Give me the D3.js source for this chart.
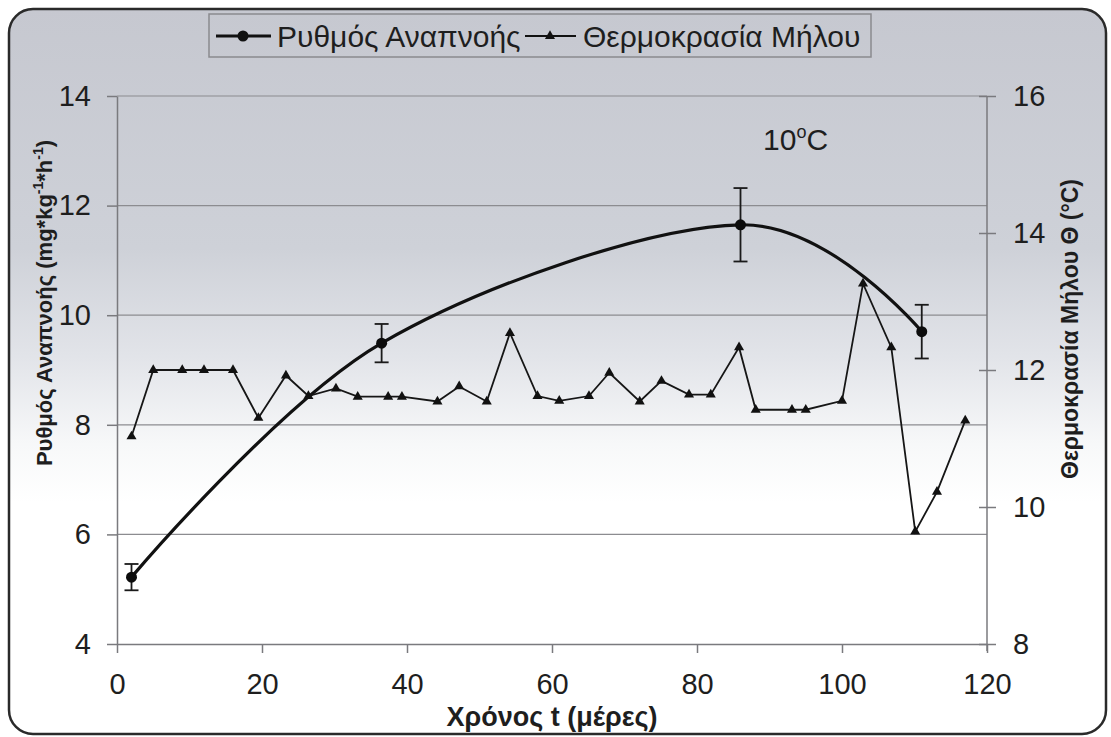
<!DOCTYPE html>
<html><head><meta charset="utf-8">
<script src="https://cdn.jsdelivr.net/npm/d3@7"></script>
<style>
html,body{margin:0;padding:0;background:#fff;}
svg{display:block;font-family:"Liberation Sans",Arial,sans-serif;}
</style></head>
<body><svg id="chart" width="1111" height="737"></svg>
<script>
// ---- data ----
const respDays = [2, 36.5, 86, 111];
const respValues = [5.22, 9.49, 11.65, 9.70];
const respErrors = [0.24, 0.35, 0.67, 0.49];

const tempDays = [2, 5, 9, 12, 16, 19.5, 23.3, 26.4, 30.2, 33.2, 37.4, 39.3, 44.2, 47.2, 51, 54.2, 58, 61, 65.1, 67.9, 72.1, 75.1, 78.9, 81.9, 85.8, 88.1, 93.1, 95, 100, 102.9, 106.8, 110.1, 113.1, 117];
const tempValues = [11.03, 12.0, 12.0, 12.0, 12.0, 11.3, 11.92, 11.62, 11.73, 11.61, 11.61, 11.61, 11.54, 11.76, 11.54, 12.54, 11.62, 11.55, 11.62, 11.96, 11.54, 11.84, 11.64, 11.64, 12.33, 11.42, 11.42, 11.42, 11.55, 13.26, 12.33, 9.64, 10.22, 11.26];

const xTicks = [0, 20, 40, 60, 80, 100, 120];
const yLeftTicks = [4, 6, 8, 10, 12, 14];
const yRightTicks = [8, 10, 12, 14, 16];
const seriesNames = ["Ρυθμός Αναπνοής", "Θερμοκρασία Μήλου"];

// ---- layout ----
const svg = d3.select("#chart");
const L = 117, R = 987, T = 96, B = 644;
const x = d3.scaleLinear().domain([0, 120]).range([L, R]);
const yL = d3.scaleLinear().domain([4, 14]).range([B, T]);
const yR = d3.scaleLinear().domain([8, 16]).range([B, T]);
const NARROW = "'Liberation Sans Narrow', 'Arial Narrow', 'Liberation Sans', Arial, sans-serif";

// background
const defs = svg.append("defs");
const g = defs.append("linearGradient").attr("id", "bg").attr("x1", 0).attr("y1", 0).attr("x2", 0).attr("y2", 1);
[[0, "#c6c8d0"], [0.33, "#ced1d8"], [0.48, "#e2e4e9"], [0.6, "#f7f8f9"], [0.68, "#ffffff"], [1, "#ffffff"]]
  .forEach(([o, c]) => g.append("stop").attr("offset", o).attr("stop-color", c));
svg.append("rect").attr("width", 1111).attr("height", 737).attr("fill", "#fff");
svg.append("rect").attr("x", 9).attr("y", 9).attr("width", 1097).attr("height", 725)
  .attr("rx", 24).attr("fill", "url(#bg)").attr("stroke", "#2a2a2a").attr("stroke-width", 2.5);

// gridlines
svg.append("g").selectAll("line").data(yLeftTicks.filter(d => d > 4)).join("line")
  .attr("x1", L).attr("x2", R).attr("y1", d => yL(d)).attr("y2", d => yL(d))
  .attr("stroke", "#8c8c90").attr("stroke-width", 1.2);

// axes
const axStyle = sel => {
  sel.attr("font-size", null).attr("font-family", null);
  sel.selectAll("path").attr("stroke", "#7a7a7e").attr("stroke-width", 1.5);
  sel.selectAll("line").attr("stroke", "#7a7a7e").attr("stroke-width", 1.5);
  sel.selectAll("text").attr("fill", "#1e1e1e").style("font-size", "29px").style("font-family", NARROW);
};
const gx = svg.append("g").attr("transform", `translate(0,${B})`)
  .call(d3.axisBottom(x).tickValues(xTicks).tickSize(9).tickSizeOuter(0).tickPadding(20));
axStyle(gx);
const gl = svg.append("g").attr("transform", `translate(${L},0)`)
  .call(d3.axisLeft(yL).tickValues(yLeftTicks).tickSize(10).tickSizeOuter(0).tickPadding(16));
axStyle(gl);
const gr = svg.append("g").attr("transform", `translate(${R},0)`)
  .call(d3.axisRight(yR).tickValues(yRightTicks).tickSize(9).tickSizeOuter(0).tickPadding(17));
axStyle(gr);
gr.selectAll(".tick line").attr("x1", -8);
gr.select("path.domain").attr("d", `M0,${T}V${B + 7}`);

// respiration smooth line
const respData = respDays.map((d, i) => ({ t: d, v: respValues[i], e: respErrors[i] }));
svg.append("path").datum(respData)
  .attr("d", d3.line().x(d => x(d.t)).y(d => yL(d.v)).curve(d3.curveCardinal.tension(0)))
  .attr("fill", "none").attr("stroke", "#111").attr("stroke-width", 3.2);

// temperature line
const tempData = tempDays.map((d, i) => ({ t: d, v: tempValues[i] }));
svg.append("path").datum(tempData)
  .attr("d", d3.line().x(d => x(d.t)).y(d => yR(d.v)))
  .attr("fill", "none").attr("stroke", "#161616").attr("stroke-width", 1.8);
const tri = d3.symbol().type(d3.symbolTriangle).size(44);
svg.append("g").selectAll("path").data(tempData).join("path")
  .attr("d", tri).attr("transform", d => `translate(${x(d.t)},${yR(d.v)})`).attr("fill", "#111");

// error bars
const eb = svg.append("g").attr("stroke", "#1a1a1a").attr("stroke-width", 1.8);
respData.forEach(d => {
  const cx = x(d.t), y1 = yL(d.v + d.e), y2 = yL(d.v - d.e);
  eb.append("line").attr("x1", cx).attr("x2", cx).attr("y1", y1).attr("y2", y2);
  eb.append("line").attr("x1", cx - 7).attr("x2", cx + 7).attr("y1", y1).attr("y2", y1);
  eb.append("line").attr("x1", cx - 7).attr("x2", cx + 7).attr("y1", y2).attr("y2", y2);
});
svg.append("g").selectAll("circle").data(respData).join("circle")
  .attr("cx", d => x(d.t)).attr("cy", d => yL(d.v)).attr("r", 5.5).attr("fill", "#0c0c0c");

// annotation 10°C
const ann = svg.append("text").attr("x", 763).attr("y", 150).attr("fill", "#1e1e1e").style("font-size", "30px");
ann.append("tspan").text("10");
ann.append("tspan").attr("dy", -12).style("font-size", "18px").text("o");
ann.append("tspan").attr("dy", 12).text("C");

// axis titles
svg.append("text").attr("x", 552).attr("y", 726).attr("text-anchor", "middle")
  .style("font-size", "27px").style("font-weight", "bold").style("font-family", NARROW)
  .attr("fill", "#1e1e1e").text("Χρόνος t (μέρες)");
const lt = svg.append("text").attr("transform", "translate(52,303) rotate(-90)").attr("text-anchor", "middle")
  .style("font-size", "22px").style("font-weight", "bold").attr("fill", "#1e1e1e");
lt.append("tspan").text("Ρυθμός Αναπνοής (mg*kg");
lt.append("tspan").attr("dy", -9).style("font-size", "14px").text("-1");
lt.append("tspan").attr("dy", 9).text("*h");
lt.append("tspan").attr("dy", -9).style("font-size", "14px").text("-1");
lt.append("tspan").attr("dy", 9).text(")");
svg.append("text").attr("transform", "translate(1078,329) rotate(-90)").attr("text-anchor", "middle")
  .style("font-size", "23px").style("font-weight", "bold").attr("fill", "#1e1e1e").text("Θερμοκρασία Μήλου Θ (°C)");

// legend
const lg = svg.append("g");
lg.append("rect").attr("x", 209).attr("y", 14).attr("width", 662).attr("height", 43)
  .attr("fill", "none").attr("stroke", "#8a8a8e").attr("stroke-width", 1.5);
lg.append("line").attr("x1", 216).attr("x2", 271).attr("y1", 36).attr("y2", 36).attr("stroke", "#111").attr("stroke-width", 3.2);
lg.append("circle").attr("cx", 243).attr("cy", 36).attr("r", 5.5).attr("fill", "#111");
lg.append("text").attr("x", 277).attr("y", 46.5).style("font-size", "30px").attr("fill", "#1e1e1e").text(seriesNames[0]);
lg.append("line").attr("x1", 525).attr("x2", 576).attr("y1", 36).attr("y2", 36).attr("stroke", "#111").attr("stroke-width", 1.8);
lg.append("path").attr("d", tri).attr("transform", "translate(550,36)").attr("fill", "#111");
lg.append("text").attr("x", 583).attr("y", 46.5).style("font-size", "30px").attr("fill", "#1e1e1e").text(seriesNames[1]);
</script></body></html>
